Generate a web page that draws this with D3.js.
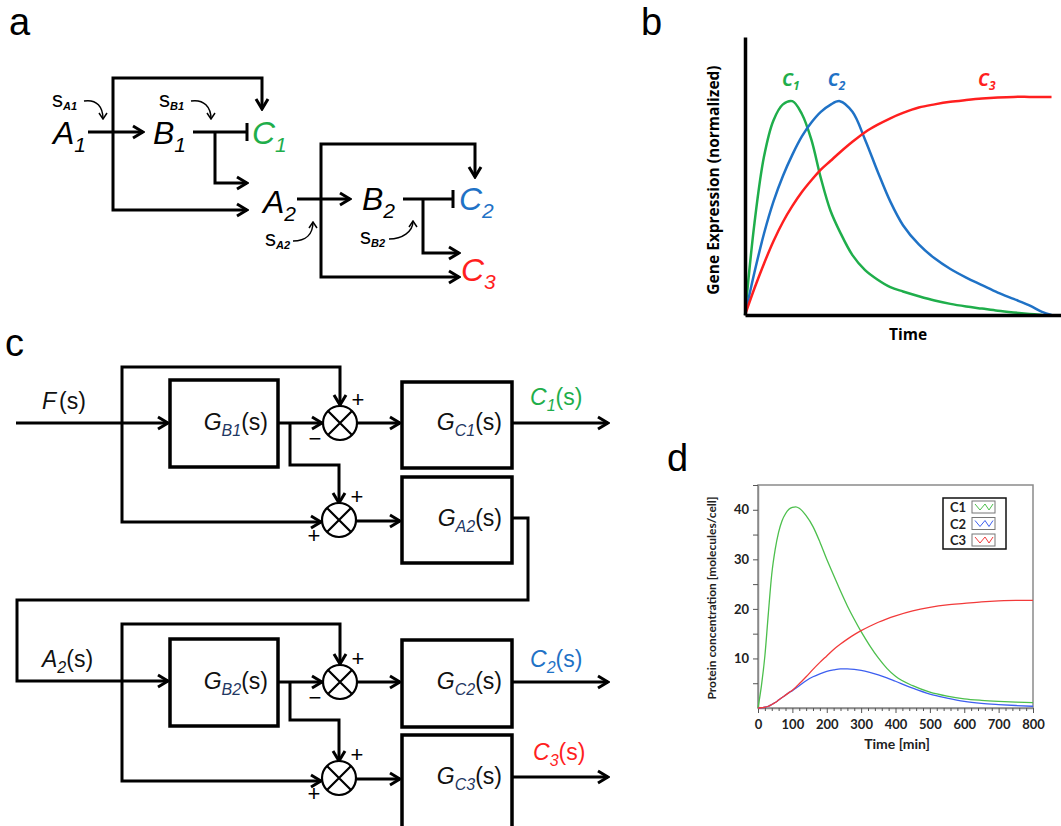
<!DOCTYPE html>
<html>
<head>
<meta charset="utf-8">
<script src="https://d3js.org/d3.v7.min.js"></script>
<style>
  body { margin: 0; background: #fff; }
  svg { display: block; font-family: Arial, "Liberation Sans", sans-serif; }
</style>
</head>
<body>
<div class="container"></div>
<script>
/* ===== DATA ===== */

// panel b : sketched gene expression, normalized (time in % of window)
var bTime = [0, 3, 6, 9, 12, 15, 18, 21, 24, 27, 30, 34, 38, 42, 46, 50, 55, 60, 65, 70, 75, 80, 85, 90, 94, 97];
var bC1 = [0, 0.43, 0.74, 0.91, 0.985, 1.0, 0.94, 0.82, 0.64, 0.49, 0.39, 0.28, 0.21, 0.165, 0.13, 0.11, 0.088, 0.068, 0.052, 0.04, 0.03, 0.02, 0.012, 0.005, 0, null];
var bC2 = [0, 0.2, 0.38, 0.53, 0.65, 0.75, 0.835, 0.9, 0.95, 0.983, 1.0, 0.95, 0.82, 0.67, 0.53, 0.42, 0.33, 0.265, 0.215, 0.175, 0.14, 0.105, 0.075, 0.045, 0.015, 0];
var bC3 = [0, 0.125, 0.24, 0.345, 0.435, 0.51, 0.575, 0.63, 0.68, 0.72, 0.76, 0.81, 0.855, 0.89, 0.92, 0.945, 0.97, 0.985, 0.997, 1.005, 1.012, 1.017, 1.02, 1.02, 1.02, 1.02];
var bNames = ["C1", "C2", "C3"];

// panel d : simulated protein concentration [molecules/cell] vs time [min]
var dTime = [0, 10, 20, 30, 40, 50, 60, 70, 80, 90, 100, 110, 120, 140, 160, 180, 200, 220, 240, 260, 280, 300, 325, 350, 375, 400, 450, 500, 550, 600, 650, 700, 750, 800];
var dC1 = [0, 4.5, 10.5, 19, 27, 32, 35.5, 37.8, 39.2, 40.1, 40.5, 40.6, 40.3, 38.8, 36.6, 33.5, 30, 26.8, 23.6, 20.6, 17.9, 15.4, 12.6, 10.1, 8.0, 6.4, 4.5, 3.2, 2.4, 1.85, 1.55, 1.35, 1.2, 1.1];
var dC2 = [0, 0.05, 0.15, 0.35, 0.7, 1.1, 1.6, 2.1, 2.6, 3.1, 3.5, 4.0, 4.5, 5.5, 6.3, 6.9, 7.4, 7.7, 7.9, 7.9, 7.8, 7.6, 7.2, 6.7, 6.1, 5.4, 4.0, 2.8, 2.0, 1.35, 0.95, 0.7, 0.5, 0.35];
var dC3 = [0, 0.05, 0.15, 0.35, 0.7, 1.1, 1.6, 2.1, 2.6, 3.1, 3.6, 4.2, 4.9, 6.3, 7.8, 9.2, 10.5, 11.8, 12.9, 13.9, 14.8, 15.6, 16.5, 17.3, 18.0, 18.6, 19.6, 20.3, 20.8, 21.1, 21.4, 21.6, 21.7, 21.7];
var dXTicks = [0, 100, 200, 300, 400, 500, 600, 700, 800];
var dYTicks = [10, 20, 30, 40];
var dLegend = ["C1", "C2", "C3"];

var green = "#1fae4b", blue = "#1f72c6", red = "#ff1f1f";
var dColors = ["#4cbf4c", "#3d5ff0", "#f23a3a"];

/* ===== SET UP ===== */

var svg = d3.select('.container')
  .append('svg')
  .attr('width', 1061)
  .attr('height', 826);

svg.append('rect').attr('width', 1061).attr('height', 826).attr('fill', '#fff');

var defs = svg.append('defs');
defs.append('marker')
  .attr('id', 'arrow')
  .attr('viewBox', '0 0 14 16')
  .attr('refX', 12).attr('refY', 8)
  .attr('markerWidth', 14).attr('markerHeight', 16)
  .attr('markerUnits', 'userSpaceOnUse')
  .attr('orient', 'auto')
  .append('path')
  .attr('d', 'M2,2 L12,8 L2,14')
  .attr('fill', 'none').attr('stroke', '#000').attr('stroke-width', 3);
defs.append('marker')
  .attr('id', 'small')
  .attr('viewBox', '0 0 8 10')
  .attr('refX', 7).attr('refY', 5)
  .attr('markerWidth', 8).attr('markerHeight', 10)
  .attr('markerUnits', 'userSpaceOnUse')
  .attr('orient', 'auto')
  .append('path')
  .attr('d', 'M1,1 L7,5 L1,9')
  .attr('fill', 'none').attr('stroke', '#000').attr('stroke-width', 1.5);

var line = d3.line();

function wire(g, pts, end) {
  g.append('path')
    .attr('d', line(pts))
    .attr('fill', 'none')
    .attr('stroke', '#000')
    .attr('stroke-width', 3)
    .attr('stroke-linejoin', 'miter')
    .attr('marker-end', end === 'arrow' ? 'url(#arrow)' : null);
  if (end === 'bar') {
    var p = pts[pts.length - 1];
    g.append('path').attr('d', line([[p[0], p[1] - 9], [p[0], p[1] + 9]]))
      .attr('stroke', '#000').attr('stroke-width', 3);
  }
}

// panel letters
var letters = [["a", 9, 35], ["b", 641, 35], ["c", 5, 356], ["d", 667, 471]];
svg.selectAll('text.letter').data(letters).enter()
  .append('text').attr('class', 'letter')
  .attr('x', function(d) { return d[1]; })
  .attr('y', function(d) { return d[2]; })
  .attr('font-size', '38px')
  .text(function(d) { return d[0]; });

/* ===== PANEL A : network ===== */

var ga = svg.append('g');
var aWires = [
  {pts: [[88, 132], [143, 132]], end: 'arrow'},
  {pts: [[193, 132], [247, 132]], end: 'bar'},
  {pts: [[113, 132], [113, 78], [262, 78], [262, 109]], end: 'arrow'},
  {pts: [[113, 132], [113, 210], [247, 210]], end: 'arrow'},
  {pts: [[215, 132], [215, 183], [247, 183]], end: 'arrow'},
  {pts: [[297, 199], [350, 199]], end: 'arrow'},
  {pts: [[403, 199], [453, 199]], end: 'bar'},
  {pts: [[321, 199], [321, 144], [475, 144], [475, 177]], end: 'arrow'},
  {pts: [[321, 199], [321, 277], [459, 277]], end: 'arrow'},
  {pts: [[423, 199], [423, 253], [459, 253]], end: 'arrow'}
];
aWires.forEach(function(w) { wire(ga, w.pts, w.end); });

var aNodes = [
  {x: 53, y: 144, t: 'A', s: '1', c: '#000'},
  {x: 153, y: 144, t: 'B', s: '1', c: '#000'},
  {x: 252, y: 144, t: 'C', s: '1', c: green},
  {x: 263, y: 213, t: 'A', s: '2', c: '#000'},
  {x: 362, y: 210, t: 'B', s: '2', c: '#000'},
  {x: 459, y: 210, t: 'C', s: '2', c: blue},
  {x: 461, y: 281, t: 'C', s: '3', c: red}
];
aNodes.forEach(function(n) {
  var t = ga.append('text').attr('x', n.x).attr('y', n.y)
    .attr('fill', n.c).attr('font-style', 'italic');
  t.append('tspan').attr('font-size', '32px').text(n.t);
  t.append('tspan').attr('font-size', '21px').attr('dy', 8).text(n.s);
});

var aSignals = [
  {x: 52, y: 107, s: 'A1', path: 'M84,101 C97,99 103,107 103,119'},
  {x: 159, y: 107, s: 'B1', path: 'M191,101 C204,99 211,107 211,119'},
  {x: 265, y: 246, s: 'A2', path: 'M293,241 C306,241 313,234 313,222'},
  {x: 360, y: 244, s: 'B2', path: 'M389,239 C402,239 413,232 413,221'}
];
aSignals.forEach(function(n) {
  var t = ga.append('text').attr('x', n.x).attr('y', n.y);
  t.append('tspan').attr('font-size', '22px').text('s');
  t.append('tspan').attr('font-size', '11px').attr('font-weight', 'bold')
    .attr('font-style', 'italic').attr('dy', 3).text(n.s);
  ga.append('path').attr('d', n.path).attr('fill', 'none')
    .attr('stroke', '#000').attr('stroke-width', 1.5)
    .attr('marker-end', 'url(#small)');
});

/* ===== PANEL B : sketch ===== */

var gb = svg.append('g');
var xB = d3.scaleLinear().domain([0, 100]).range([745, 1061]);
var yB = d3.scaleLinear().domain([0, 1.3]).range([315, 37]);

var bSeries = [bC1, bC2, bC3];
var bCols = [green, blue, red];
var bLine = d3.line()
  .defined(function(d) { return d[1] !== null; })
  .x(function(d) { return xB(d[0]); })
  .y(function(d) { return yB(Math.max(0, d[1])); })
  .curve(d3.curveCatmullRom.alpha(0.5));

bSeries.forEach(function(s, i) {
  gb.append('path')
    .datum(bTime.map(function(t, j) { return [t, s[j]]; }))
    .attr('d', bLine)
    .attr('fill', 'none')
    .attr('stroke', bCols[i])
    .attr('stroke-width', 2.5);
});

gb.append('g').attr('transform', 'translate(745,0)')
  .call(d3.axisLeft(yB).ticks(0).tickSizeOuter(0))
  .select('.domain').attr('stroke-width', 3.5);
gb.append('g').attr('transform', 'translate(0,315)')
  .call(d3.axisBottom(xB).ticks(0).tickSizeOuter(0))
  .select('.domain').attr('stroke-width', 3.5);

var bLabelX = [14.5, 29, 76.5];
bNames.forEach(function(n, i) {
  var t = gb.append('text')
    .attr('x', xB(bLabelX[i])).attr('y', 86)
    .attr('text-anchor', 'middle')
    .attr('fill', bCols[i])
    .attr('font-family', '"Open Sans", sans-serif')
    .attr('font-weight', 'bold').attr('font-style', 'italic');
  t.append('tspan').attr('font-size', '18px').text('C');
  t.append('tspan').attr('font-size', '12px').attr('dy', 4).text(n.slice(1));
});

gb.append('text')
  .attr('transform', 'translate(719,180) rotate(-90)')
  .attr('text-anchor', 'middle')
  .attr('font-family', '"Open Sans", sans-serif')
  .attr('font-weight', 'bold').attr('font-size', '15.5px')
  .text('Gene Expression (normalized)');
gb.append('text')
  .attr('x', 908).attr('y', 340)
  .attr('text-anchor', 'middle')
  .attr('font-family', '"Open Sans", sans-serif')
  .attr('font-weight', 'bold').attr('font-size', '15.5px')
  .text('Time');

/* ===== PANEL C : block diagram ===== */

var gc = svg.append('g');
var cWires = [
  {pts: [[16, 423], [168, 423]], end: 'arrow'},
  {pts: [[122, 423], [122, 367], [340, 367], [340, 405]], end: 'arrow'},
  {pts: [[122, 423], [122, 522], [321, 522]], end: 'arrow'},
  {pts: [[278, 423], [322, 423]], end: 'arrow'},
  {pts: [[290, 423], [290, 465], [339, 465], [339, 503]], end: 'arrow'},
  {pts: [[357, 423], [400, 423]], end: 'arrow'},
  {pts: [[512, 423], [608, 423]], end: 'arrow'},
  {pts: [[356, 521], [400, 521]], end: 'arrow'},
  {pts: [[512, 518], [528, 518], [528, 600], [17, 600], [17, 681], [168, 681]], end: 'arrow'},
  {pts: [[122, 681], [122, 624], [340, 624], [340, 664]], end: 'arrow'},
  {pts: [[122, 681], [122, 781], [321, 781]], end: 'arrow'},
  {pts: [[278, 682], [322, 682]], end: 'arrow'},
  {pts: [[290, 682], [290, 720], [339, 720], [339, 761]], end: 'arrow'},
  {pts: [[357, 682], [400, 682]], end: 'arrow'},
  {pts: [[512, 682], [608, 682]], end: 'arrow'},
  {pts: [[356, 779], [400, 779]], end: 'arrow'},
  {pts: [[512, 777], [608, 777]], end: 'arrow'}
];
cWires.forEach(function(w) { wire(gc, w.pts, w.end); });

var cBlocks = [
  {x: 170, y: 380, w: 108, h: 87, sub: 'B1', tx: 268, ty: 430},
  {x: 402, y: 382, w: 110, h: 86, sub: 'C1', tx: 502, ty: 430},
  {x: 402, y: 477, w: 110, h: 86, sub: 'A2', tx: 502, ty: 526},
  {x: 170, y: 639, w: 108, h: 87, sub: 'B2', tx: 268, ty: 689},
  {x: 402, y: 640, w: 110, h: 87, sub: 'C2', tx: 502, ty: 689},
  {x: 402, y: 735, w: 110, h: 100, sub: 'C3', tx: 502, ty: 784}
];
cBlocks.forEach(function(b) {
  gc.append('rect').attr('x', b.x).attr('y', b.y)
    .attr('width', b.w).attr('height', b.h)
    .attr('fill', 'none').attr('stroke', '#000').attr('stroke-width', 3.5);
  var t = gc.append('text').attr('x', b.tx).attr('y', b.ty)
    .attr('text-anchor', 'end').attr('fill', '#111');
  t.append('tspan').attr('font-size', '23px').attr('font-style', 'italic').text('G');
  t.append('tspan').attr('font-size', '16px').attr('font-style', 'italic')
    .attr('dy', 6).attr('fill', '#1f3864').text(b.sub);
  t.append('tspan').attr('font-size', '23px').attr('dy', -6).text('(s)');
});

var cSums = [
  {x: 340, y: 423, top: '+', side: '−'},
  {x: 339, y: 520, top: '+', side: '+'},
  {x: 340, y: 682, top: '+', side: '−'},
  {x: 339, y: 778, top: '+', side: '+'}
];
var r = 17;
cSums.forEach(function(s) {
  gc.append('circle').attr('cx', s.x).attr('cy', s.y).attr('r', r)
    .attr('fill', '#fff').attr('stroke', '#000').attr('stroke-width', 2.2);
  var k = r * Math.SQRT1_2;
  gc.append('path')
    .attr('d', line([[s.x - k, s.y - k], [s.x + k, s.y + k]]) + line([[s.x - k, s.y + k], [s.x + k, s.y - k]]))
    .attr('stroke', '#000').attr('stroke-width', 2.2);
  gc.append('text').attr('x', s.x + 18).attr('y', s.y - 16)
    .attr('text-anchor', 'middle').attr('font-size', '22px').text(s.top);
  gc.append('text').attr('x', s.x - 25).attr('y', s.y + 23)
    .attr('text-anchor', 'middle').attr('font-size', '22px').text(s.side);
});

var cSignals = [
  {x: 42, y: 409, m: 'F', s: '', c: '#111', gap: 3},
  {x: 42, y: 667, m: 'A', s: '2', c: '#111', gap: 0},
  {x: 530, y: 405, m: 'C', s: '1', c: green, gap: 0},
  {x: 530, y: 667, m: 'C', s: '2', c: blue, gap: 0},
  {x: 533, y: 760, m: 'C', s: '3', c: red, gap: 0}
];
cSignals.forEach(function(n) {
  var t = gc.append('text').attr('x', n.x).attr('y', n.y).attr('fill', n.c);
  t.append('tspan').attr('font-size', '23px').attr('font-style', 'italic').text(n.m);
  if (n.s) {
    t.append('tspan').attr('font-size', '16px').attr('font-style', 'italic').attr('dy', 6).text(n.s);
    t.append('tspan').attr('font-size', '23px').attr('dy', -6).text('(s)');
  } else {
    t.append('tspan').attr('font-size', '23px').attr('dx', n.gap).text('(s)');
  }
});

/* ===== PANEL D : simulation ===== */

var gd = svg.append('g');
var xD = d3.scaleLinear().domain([0, 800]).range([758, 1033]);
var yD = d3.scaleLinear().domain([0, 45]).range([708, 485]);

gd.append('rect').attr('x', 758).attr('y', 485)
  .attr('width', 1033 - 758).attr('height', 708 - 485)
  .attr('fill', 'none').attr('stroke', '#8a8a8a').attr('stroke-width', 1.5);

var dFont = 'Lato, "Open Sans", sans-serif';
var yAx = gd.append('g').attr('transform', 'translate(758,0)')
  .call(d3.axisLeft(yD)
    .tickValues(d3.range(5, 50, 5))
    .tickSize(5).tickSizeOuter(0)
    .tickFormat(function(d) { return dYTicks.indexOf(d) >= 0 ? d : ''; }));
var xAx = gd.append('g').attr('transform', 'translate(0,708)')
  .call(d3.axisBottom(xD)
    .tickValues(d3.range(0, 820, 20))
    .tickSize(3).tickSizeOuter(0)
    .tickFormat(function(d) { return dXTicks.indexOf(d) >= 0 ? d : ''; }));
xAx.selectAll('.tick line')
  .attr('y2', function(d) { return dXTicks.indexOf(d) >= 0 ? 5 : 3; });
[yAx, xAx].forEach(function(a) {
  a.select('.domain').attr('stroke', '#8a8a8a').attr('stroke-width', 1.5);
  a.selectAll('.tick line').attr('stroke', '#555');
  a.selectAll('text').attr('font-family', dFont).attr('font-weight', 'bold')
    .attr('font-size', '13px').attr('fill', '#222');
});
yAx.selectAll('text').attr('x', -9);
xAx.selectAll('text').attr('y', 12);

var dSeries = [dC1, dC2, dC3];
var dLine = d3.line()
  .x(function(d) { return xD(d[0]); })
  .y(function(d) { return yD(d[1]); })
  .curve(d3.curveMonotoneX);
dSeries.forEach(function(s, i) {
  gd.append('path')
    .datum(dTime.map(function(t, j) { return [t, s[j]]; }))
    .attr('d', dLine)
    .attr('fill', 'none')
    .attr('stroke', dColors[i])
    .attr('stroke-width', 1.3);
});

gd.append('text')
  .attr('transform', 'translate(716,598) rotate(-90)')
  .attr('text-anchor', 'middle')
  .attr('font-family', dFont).attr('font-weight', 'bold')
  .attr('font-size', '12px').attr('fill', '#222')
  .text('Protein concentration [molecules/cell]');
gd.append('text')
  .attr('x', 897).attr('y', 749)
  .attr('text-anchor', 'middle')
  .attr('font-family', dFont).attr('font-weight', 'bold')
  .attr('font-size', '14px').attr('fill', '#222')
  .text('Time [min]');

// legend
var leg = gd.append('g');
leg.append('rect').attr('x', 943).attr('y', 498).attr('width', 63).attr('height', 51)
  .attr('fill', '#fff').attr('stroke', '#111').attr('stroke-width', 1.5);
dLegend.forEach(function(n, i) {
  var y0 = 501 + i * 16.5;
  leg.append('text').attr('x', 950).attr('y', y0 + 11)
    .attr('font-family', dFont).attr('font-weight', 'bold')
    .attr('font-size', '13px').attr('fill', '#222').text(n);
  leg.append('rect').attr('x', 972).attr('y', y0).attr('width', 23).attr('height', 12)
    .attr('fill', '#fff').attr('stroke', '#777').attr('stroke-width', 1);
  leg.append('path')
    .attr('d', line([[975, y0 + 3], [980, y0 + 9], [985, y0 + 3], [989, y0 + 9], [993, y0 + 3]]))
    .attr('fill', 'none').attr('stroke', dColors[i]).attr('stroke-width', 1);
});
</script>
</body>
</html>
